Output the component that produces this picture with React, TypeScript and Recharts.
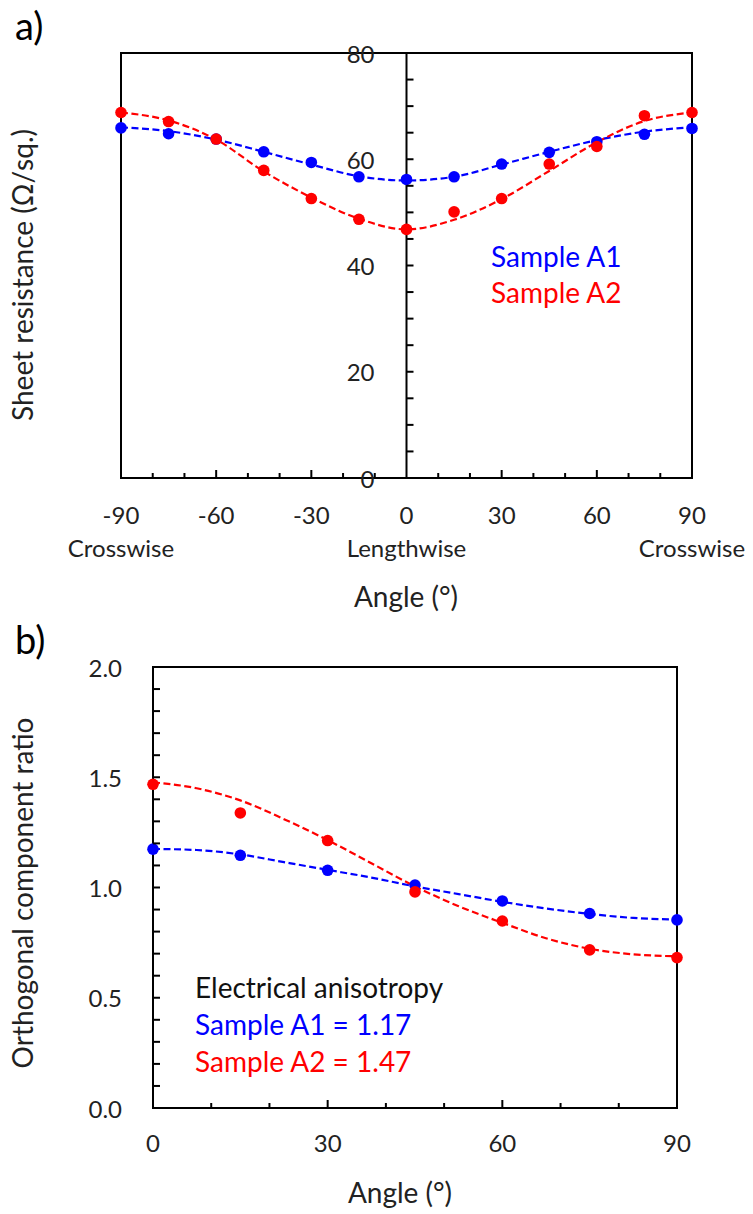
import React from "react";
import { ComposedChart, Line, Scatter, XAxis, YAxis, ReferenceArea, ReferenceLine } from "recharts";

// panel a) sheet resistance vs angle
const anglesA = [-90, -75, -60, -45, -30, -15, 0, 15, 30, 45, 60, 75, 90];
const sheetA1 = [65.9, 64.8, 63.8, 61.4, 59.4, 56.7, 56.2, 56.7, 59.1, 61.3, 63.3, 64.7, 65.8];
const sheetA2 = [68.8, 67.1, 63.8, 57.9, 52.6, 48.7, 46.8, 50.1, 52.6, 59.1, 62.4, 68.2, 68.8];
const sheetFitA1 = [66.0, 65.3, 63.7, 61.4, 59.0, 56.8, 56.0, 56.7, 59.0, 61.4, 63.6, 65.2, 66.0];
const sheetFitA2 = [68.8, 67.3, 63.7, 57.7, 52.8, 48.8, 46.8, 48.6, 52.5, 57.8, 63.2, 67.2, 68.8];
const sheetTicksX = [-90, -80, -70, -60, -50, -40, -30, -20, -10, 0, 10, 20, 30, 40, 50, 60, 70, 80, 90];
const sheetTicksY = [0, 5, 10, 15, 20, 25, 30, 35, 40, 45, 50, 55, 60, 65, 70, 75, 80];
const subLabelAngles = [-90, 0, 90];
const subLabels = ["Crosswise", "Lengthwise", "Crosswise"];

// panel b) orthogonal component ratio
const anglesB = [0, 15, 30, 45, 60, 75, 90];
const ratioA1 = [1.174, 1.146, 1.078, 1.011, 0.939, 0.882, 0.853];
const ratioA2 = [1.468, 1.338, 1.213, 0.98, 0.848, 0.717, 0.682];
const fitAnglesB = [0, 7.5, 15, 22.5, 30, 37.5, 45, 52.5, 60, 67.5, 75, 82.5, 90];
const ratioFitA1 = [1.175, 1.17, 1.15, 1.115, 1.08, 1.045, 1.005, 0.97, 0.935, 0.905, 0.88, 0.862, 0.855];
const ratioFitA2 = [1.477, 1.45, 1.395, 1.31, 1.215, 1.11, 1.005, 0.915, 0.84, 0.77, 0.722, 0.697, 0.688];
const ratioTicksX = [0, 10, 20, 30, 40, 50, 60, 70, 80, 90];
const ratioTicksY = [0, 0.1, 0.2, 0.3, 0.4, 0.5, 0.6, 0.7, 0.8, 0.9, 1.0, 1.1, 1.2, 1.3, 1.4, 1.5, 1.6, 1.7, 1.8, 1.9, 2.0];

const FONT = "Lato, 'Open Sans', sans-serif";
const BLUE = "#0000ff";
const RED = "#ff0000";
const INK = "#222";

const TOP_LEFT = 121;
const TOP_RIGHT = 692;
const TOP_MID = (TOP_LEFT + TOP_RIGHT) / 2;
const AXIS_W = 40;
const AXIS_H = 30;

const zip = (xs: number[], ys: number[]) => xs.map((x, i) => ({ x, y: ys[i] }));

const Dot = (color: string) => (p: any) => <circle cx={p.cx} cy={p.cy} r={5.8} fill={color} />;

const TopXTick = (props: any) => {
  const { x, y, payload } = props;
  const v = payload.value;
  const major = v % 30 === 0;
  const sub = subLabelAngles.indexOf(v);
  return (
    <g>
      {v > -90 && v < 90 && v !== 0 && (
        <line x1={x} x2={x} y1={y} y2={y - (major ? 8 : 5)} stroke="#000" strokeWidth={2} />
      )}
      {major && (
        <text x={x} y={y + 46} textAnchor="middle" fontSize={24} fontFamily={FONT} fill={INK}>
          {v}
        </text>
      )}
      {sub >= 0 && (
        <text x={x} y={y + 79} textAnchor="middle" fontSize={24} fontFamily={FONT} fill={INK}>
          {subLabels[sub]}
        </text>
      )}
    </g>
  );
};

const TopYTick = (props: any) => {
  const { y, payload } = props;
  const v = payload.value;
  return (
    <g>
      {v > 0 && v < 80 && <line x1={TOP_MID} x2={TOP_MID + 7} y1={y} y2={y} stroke="#000" strokeWidth={2} />}
      {v % 20 === 0 && (
        <text x={TOP_MID - 32} y={y} textAnchor="end" dominantBaseline="central" fontSize={24} fontFamily={FONT} fill={INK}>
          {v}
        </text>
      )}
    </g>
  );
};

const BottomXTick = (props: any) => {
  const { x, y, payload } = props;
  const v = payload.value;
  const major = v % 30 === 0;
  return (
    <g>
      {v > 0 && v < 90 && <line x1={x} x2={x} y1={y} y2={y - (major ? 8 : 5)} stroke="#000" strokeWidth={2} />}
      {major && (
        <text x={x} y={y + 44} textAnchor="middle" fontSize={24} fontFamily={FONT} fill={INK}>
          {v}
        </text>
      )}
    </g>
  );
};

const BottomYTick = (props: any) => {
  const { x, y, payload } = props;
  const v = payload.value;
  const major = Math.abs(v * 2 - Math.round(v * 2)) < 1e-6;
  return (
    <g>
      {v > 0 && v < 2 && <line x1={x} x2={x + 7} y1={y} y2={y} stroke="#000" strokeWidth={2} />}
      {major && (
        <text x={x - 31} y={y} textAnchor="end" dominantBaseline="central" fontSize={24} fontFamily={FONT} fill={INK}>
          {v.toFixed(1)}
        </text>
      )}
    </g>
  );
};

const dash = "7 3.5";

export default function App() {
  return (
    <div style={{ position: "absolute", left: 0, top: 0, width: 753, height: 1214, background: "#fff" }}>
      <div style={{ position: "absolute", left: 0, top: 0 }}>
        <ComposedChart
          width={753}
          height={610}
          margin={{ top: 53, right: 753 - TOP_RIGHT, bottom: 132 - AXIS_H, left: TOP_LEFT - AXIS_W }}
        >
          <XAxis
            type="number"
            dataKey="x"
            domain={[-90, 90]}
            ticks={sheetTicksX}
            interval={0}
            height={AXIS_H}
            axisLine={false}
            tickLine={false}
            tickSize={0}
            tickMargin={0}
            tick={<TopXTick />}
          />
          <YAxis
            type="number"
            dataKey="y"
            domain={[0, 80]}
            ticks={sheetTicksY}
            interval={0}
            width={AXIS_W}
            axisLine={false}
            tickLine={false}
            tickSize={0}
            tickMargin={0}
            tick={<TopYTick />}
          />
          <ReferenceArea x1={-90} x2={90} y1={0} y2={80} fill="none" stroke="#000" strokeWidth={2} ifOverflow="visible" />
          <ReferenceLine x={0} stroke="#000" strokeWidth={2} />
          <Line data={zip(anglesA, sheetFitA1)} dataKey="y" type="monotone" stroke={BLUE} strokeWidth={2.2} strokeDasharray={dash} dot={false} isAnimationActive={false} />
          <Line data={zip(anglesA, sheetFitA2)} dataKey="y" type="monotone" stroke={RED} strokeWidth={2.2} strokeDasharray={dash} dot={false} isAnimationActive={false} />
          <Scatter data={zip(anglesA, sheetA1)} fill={BLUE} shape={Dot(BLUE)} isAnimationActive={false} />
          <Scatter data={zip(anglesA, sheetA2)} fill={RED} shape={Dot(RED)} isAnimationActive={false} />
        </ComposedChart>
      </div>

      <div style={{ position: "absolute", left: 0, top: 600 }}>
        <ComposedChart width={753} height={614} margin={{ top: 67, right: 76, bottom: 106 - AXIS_H, left: 153 - AXIS_W }}>
          <XAxis
            type="number"
            dataKey="x"
            domain={[0, 90]}
            ticks={ratioTicksX}
            interval={0}
            height={AXIS_H}
            axisLine={false}
            tickLine={false}
            tickSize={0}
            tickMargin={0}
            tick={<BottomXTick />}
          />
          <YAxis
            type="number"
            dataKey="y"
            domain={[0, 2]}
            ticks={ratioTicksY}
            interval={0}
            width={AXIS_W}
            axisLine={false}
            tickLine={false}
            tickSize={0}
            tickMargin={0}
            tick={<BottomYTick />}
          />
          <ReferenceArea x1={0} x2={90} y1={0} y2={2} fill="none" stroke="#000" strokeWidth={2} ifOverflow="visible" />
          <Line data={zip(fitAnglesB, ratioFitA1)} dataKey="y" type="monotone" stroke={BLUE} strokeWidth={2.2} strokeDasharray={dash} dot={false} isAnimationActive={false} />
          <Line data={zip(fitAnglesB, ratioFitA2)} dataKey="y" type="monotone" stroke={RED} strokeWidth={2.2} strokeDasharray={dash} dot={false} isAnimationActive={false} />
          <Scatter data={zip(anglesB, ratioA1)} fill={BLUE} shape={Dot(BLUE)} isAnimationActive={false} />
          <Scatter data={zip(anglesB, ratioA2)} fill={RED} shape={Dot(RED)} isAnimationActive={false} />
        </ComposedChart>
      </div>

      <svg width={753} height={1214} style={{ position: "absolute", left: 0, top: 0, pointerEvents: "none" }} fontFamily={FONT}>
        <text x={15} y={40} fontSize={38} fill="#000">a)</text>
        <text x={15} y={654} fontSize={38} fill="#000">b)</text>

        <text x={33} y={275} fontSize={28} fill={INK} textAnchor="middle" transform="rotate(-90 33 275)">
          Sheet resistance (Ω/sq.)
        </text>
        <text x={406} y={607} fontSize={28} fill={INK} textAnchor="middle">Angle (°)</text>
        <text x={491} y={267} fontSize={28} fill={BLUE}>Sample A1</text>
        <text x={491} y={303} fontSize={28} fill={RED}>Sample A2</text>

        <text x={33} y={893} fontSize={28} fill={INK} textAnchor="middle" transform="rotate(-90 33 893)">
          Orthogonal component ratio
        </text>
        <text x={400} y={1203} fontSize={28} fill={INK} textAnchor="middle">Angle (°)</text>
        <text x={195} y={998} fontSize={28} fill="#111">Electrical anisotropy</text>
        <text x={195} y={1035} fontSize={28} fill={BLUE}>Sample A1 = 1.17</text>
        <text x={195} y={1072} fontSize={28} fill={RED}>Sample A2 = 1.47</text>
      </svg>
    </div>
  );
}
